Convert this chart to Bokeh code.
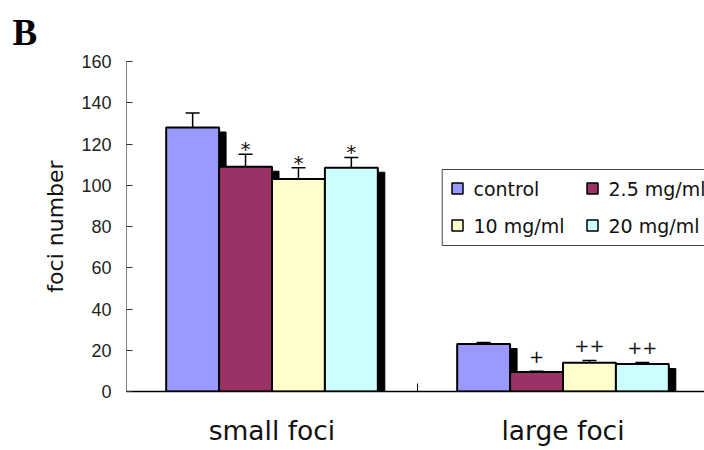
from bokeh.plotting import figure
from bokeh.models import Range1d, FixedTicker, Whisker, TeeHead, ColumnDataSource
from bokeh.core.properties import value
from bokeh.embed import file_html
from bokeh.resources import INLINE

# ---- data ----
categories = ["small foci", "large foci"]
series = ["control", "2.5 mg/ml", "10 mg/ml", "20 mg/ml"]
colors = ["#9999FF", "#993366", "#FFFFCC", "#CCFFFF"]
means_small = [128, 109, 103, 108.5]
means_large = [23, 9.5, 14, 13.3]
err_small = [7, 6, 5.5, 5]
err_large = [0.8, 0.3, 1.0, 0.8]
marks_small = ["", "*", "*", "*"]
marks_large = ["", "+", "++", "++"]
y_ticks = [0, 20, 40, 60, 80, 100, 120, 140, 160]

# ---- geometry ----
W, H = 704, 450
BL, BT, BB, BR = 126, 61, 59, 0
frame_w = W - BL - BR
frame_h = H - BT - BB
cat_px = 291.0
x_end = frame_w / cat_px
y_end = 160
px_per_y = frame_h / y_end
AX_X, AX_Y = BL, BT + frame_h  # frame corner in page pixels

n = len(series)
bw = 1.0 / (n + 1.5)
gap = 0.75 * bw

p = figure(width=W, height=H, output_backend="svg", toolbar_location=None,
           x_range=Range1d(0, x_end), y_range=Range1d(0, y_end),
           min_border_left=BL, min_border_top=BT, min_border_bottom=BB, min_border_right=BR,
           title="B")
p.outline_line_color = None
p.xgrid.visible = False
p.ygrid.visible = False
p.background_fill_color = "white"
p.border_fill_color = "white"
p.title.align = "left"
p.title.offset = 12 - BL
p.title.text_font = "Liberation Serif"
p.title.text_font_style = "bold"
p.title.text_font_size = "37px"
p.title.text_color = "black"
p.title.standoff = 17

xs, tops, errs, cols, marks = [], [], [], [], []
for ci, (means, errv, mk) in enumerate([(means_small, err_small, marks_small),
                                        (means_large, err_large, marks_large)]):
    for si in range(n):
        xs.append(ci + gap + (si + 0.5) * bw)
        tops.append(means[si])
        errs.append(errv[si])
        cols.append(colors[si])
        marks.append(mk[si])

uppers = [t + e for t, e in zip(tops, errs)]
src = ColumnDataSource(dict(
    x=xs, top=tops, upper=uppers, color=cols,
    sx=[x + 7 / cat_px for x in xs], stop=[t - 4.5 / px_per_y for t in tops],
))

# shadows
p.vbar(x="sx", top="stop", width=bw, bottom=0, source=src, fill_color="black", line_color="black")
# bars
p.vbar(x="x", top="top", width=bw, bottom=0, source=src, fill_color="color",
       line_color="black", line_width=2)

# error bars (upper only)
p.add_layout(Whisker(base="x", lower="top", upper="upper", source=src,
                     line_color="black", line_width=1.5,
                     upper_head=TeeHead(size=14, line_color="black", line_width=1.5),
                     lower_head=None))

# significance marks
def pick(prefix):
    idx = [i for i, m in enumerate(marks) if m.startswith(prefix)]
    return ColumnDataSource(dict(x=[xs[i] for i in idx], y=[uppers[i] for i in idx],
                                 t=[marks[i] for i in idx]))

p.text(x="x", y="y", text="t", source=pick("*"), text_align="center", text_baseline="middle",
       y_offset=-5, text_font=value("DejaVu Sans"), text_font_size="20px", text_color="#111111")
p.text(x="x", y="y", text="t", source=pick("+"), text_align="center", text_baseline="middle",
       y_offset=-15, text_font=value("DejaVu Sans"), text_font_size="18px", text_color="#111111")

# legend (drawn as glyphs)
def dx(px):
    return (px - AX_X) / cat_px

def dy(py):
    return (AX_Y - py) / px_per_y

p.quad(left=[dx(441.7)], right=[x_end + 0.2], top=[dy(169)], bottom=[dy(245)],
       fill_color="white", line_color="#444444", line_width=1)
sw_x = [dx(457), dx(592)]
tx_x = [dx(473), dx(608)]
row_y = [dy(188), dy(225)]
lx, ly, ltx = [], [], []
for si in range(n):
    r, c = divmod(si, 2)
    lx.append(sw_x[c]); ly.append(row_y[r]); ltx.append(tx_x[c])
p.rect(x=lx, y=ly, width=11, height=11, width_units="screen", height_units="screen",
       fill_color=colors, line_color="black", line_width=1.5)
p.text(x=ltx, y=ly, text=series, text_baseline="middle", text_align="left",
       text_font=value("DejaVu Sans"), text_font_size="19px", text_color="#111111")

# axes
xa = p.xaxis[0]
xa.ticker = FixedTicker(ticks=[i + 0.5 for i in range(len(categories))],
                        minor_ticks=list(range(len(categories) + 1)))
xa.major_label_overrides = {i + 0.5: c for i, c in enumerate(categories)}
xa.major_tick_in = 0
xa.major_tick_out = 0
xa.minor_tick_in = 8
xa.minor_tick_out = 0
xa.minor_tick_line_color = "black"
xa.axis_line_color = "black"
xa.axis_line_width = 1.5
xa.major_label_text_font = "DejaVu Sans"
xa.major_label_text_font_size = "26.5px"
xa.major_label_text_color = "#111111"
xa.major_label_standoff = 23

ya = p.yaxis[0]
ya.ticker = FixedTicker(ticks=y_ticks, minor_ticks=[])
ya.major_tick_in = 6
ya.major_tick_out = 0
ya.major_tick_line_color = "#333333"
ya.axis_line_color = "#808080"
ya.axis_line_width = 1
ya.major_label_text_font = "Liberation Sans"
ya.major_label_text_font_size = "18px"
ya.major_label_text_color = "#222222"
ya.major_label_standoff = 15
ya.axis_label = "foci number"
ya.axis_label_text_font = "DejaVu Sans"
ya.axis_label_text_font_size = "22px"
ya.axis_label_text_font_style = "normal"
ya.axis_label_text_color = "#111111"
ya.axis_label_standoff = 10

open("out.html", "w").write(file_html(p, INLINE))
